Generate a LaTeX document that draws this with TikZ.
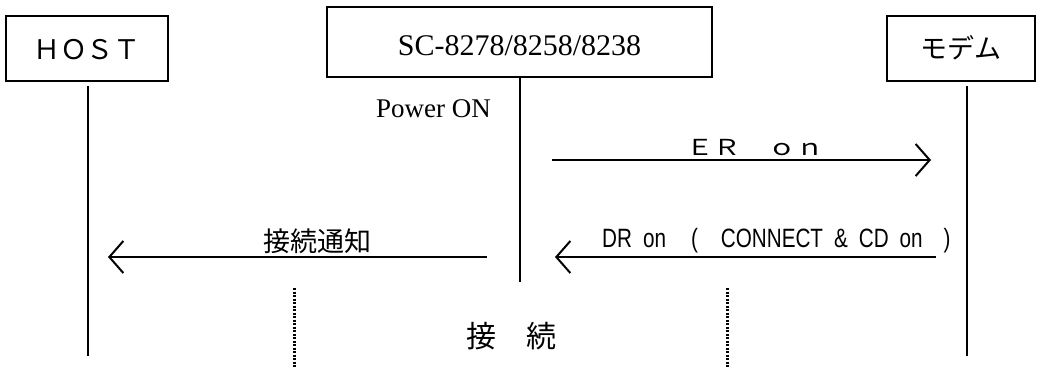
\documentclass[tikz,border=0pt]{standalone}
\usepackage{fontspec}
\setmainfont{Liberation Serif}
\newfontfamily\jpfont{Noto Sans CJK JP}
\newfontfamily\narrowfont[FakeStretch=0.78]{Liberation Sans}
\usetikzlibrary{arrows.meta,positioning}

\begin{document}
\begin{tikzpicture}[x=1pt,y=-1pt]
\tikzstyle{station} = [
	shape=rectangle,
	draw=black, %border of the box
	line width=2pt,
	inner sep=0pt,
	text depth=0pt
];
\tikzstyle{life} = [line width=2pt, color=black]
\tikzstyle{msg} = [-{Straight Barb[length=14pt,width=32pt]}, line width=2pt, color=black]
\tikzstyle{phase} = [line width=3pt, dash pattern=on 2pt off 1.5pt]
\tikzstyle{lbl} = [anchor=base, inner sep=0pt]

\useasboundingbox (0,0) rectangle (1037,368);

%stations
\node[station, minimum width=162pt, minimum height=65pt, text height=21pt,
	font=\jpfont\fontsize{27pt}{27pt}\selectfont](host) at (87,48.5) {ＨＯＳＴ};
\node[station, minimum width=385pt, minimum height=70pt, text height=26pt,
	font=\fontsize{30pt}{30pt}\selectfont](sc) at (519.5,42) {SC-8278/8258/8238};
\node[station, minimum width=148pt, minimum height=65pt, text height=19pt,
	font=\jpfont\fontsize{27pt}{27pt}\selectfont](modem) at (961,48.5) {モデム};

%ends of the lifelines
\coordinate (hostend) at (88,356);
\coordinate (scend) at (519.5,282);
\coordinate (modemend) at (967,356);

\draw[life]
	([xshift=1pt,yshift=-4pt]host.south) -- (hostend)
	(sc.south) -- (scend)
	([xshift=6pt,yshift=-4pt]modem.south) -- (modemend)
;

%messages
\coordinate (er-a) at (552,160);
\coordinate (er-b) at (931,160);
\coordinate (notice-a) at (487,257);
\coordinate (notice-b) at (108,257);
\coordinate (dr-a) at (936,257);
\coordinate (dr-b) at (555,257);

\draw[msg] (er-a) -- (er-b);
\draw[msg] (dr-a) -- (dr-b);
\draw[msg] (notice-a) -- (notice-b);

\node[lbl, font=\fontsize{27pt}{27pt}\selectfont] (power) at (433.5,117) {Power ON};
\node[lbl, font=\jpfont\fontsize{27.5pt}{27.5pt}\selectfont] (erlbl) at (755,155) {\scalebox{1}[0.8]{ＥＲ　ｏｎ}};
\node[lbl, font=\jpfont\fontsize{27pt}{27pt}\selectfont] (noticelbl) at (317.5,251) {接続通知};
\node[lbl, anchor=base west, font=\narrowfont\fontsize{26.5pt}{26.5pt}\selectfont] (drlbl) at (602,247)
	{DR\hspace{11pt}on\hspace{25pt}(\hspace{23pt}CONNECT\hspace{11pt}\&\hspace{11pt}CD\hspace{11pt}on\hspace{21pt})};

%connection phase
\coordinate (ph1-a) at (294,288);
\coordinate (ph1-b) at (294,368);
\coordinate (ph2-a) at (727,288);
\coordinate (ph2-b) at (727,368);
\draw[phase] (ph1-a) -- (ph1-b) (ph2-a) -- (ph2-b);

\node[lbl, font=\jpfont\fontsize{30pt}{30pt}\selectfont] (phaselbl) at (511,347) {接　続};

\end{tikzpicture}
\end{document}
